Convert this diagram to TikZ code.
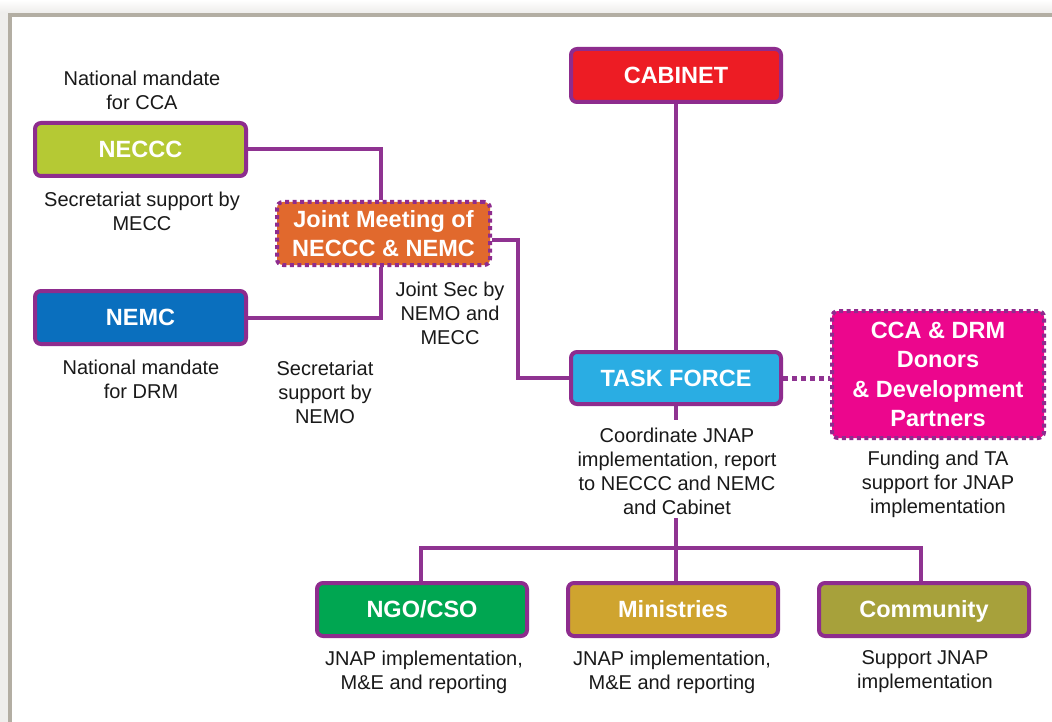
\documentclass[tikz,border=0pt]{standalone}
\usepackage{fontspec}
\setmainfont{Liberation Sans}
\usetikzlibrary{backgrounds}
\definecolor{frameout}{HTML}{EFEEEC}
\definecolor{framebar}{HTML}{B3AEA3}
\definecolor{purp}{HTML}{8E2C8E}
\definecolor{linep}{HTML}{8F3391}
\definecolor{cabred}{HTML}{ED1C24}
\definecolor{neccc}{HTML}{B5C934}
\definecolor{nemc}{HTML}{0A6FBE}
\definecolor{jointor}{HTML}{E1692D}
\definecolor{taskb}{HTML}{2AADE3}
\definecolor{donorp}{HTML}{EC068D}
\definecolor{ngog}{HTML}{00A651}
\definecolor{minis}{HTML}{CFA42F}
\definecolor{commu}{HTML}{A7A13B}
\tikzset{
  boxbase/.style={rounded corners=6pt, inner sep=0pt, align=center, text=white,
    font=\fontsize{23.5}{29.5}\selectfont\bfseries, minimum width=210pt, minimum height=53pt},
  solidbox/.style={boxbase, draw=purp, line width=4pt, text height=18.4pt, text depth=1.6pt},
  dotbox/.style={boxbase, draw=purp, line width=4pt, dash pattern=on 4pt off 3.5pt},
  conn/.style={draw=linep, line width=4pt},
  dotconn/.style={draw=linep, line width=5pt, dash pattern=on 5pt off 4pt},
  lbl/.style={align=center, inner sep=0pt, font=\fontsize{20}{24}\selectfont, text=black!90}
}
\begin{document}
\begin{tikzpicture}[x=1pt,y=-1pt]
\useasboundingbox (0,0) rectangle (1052,722);

% boxes
\node[solidbox, fill=cabred] (cab) at (676,75.5) {CABINET};
\node[solidbox, fill=neccc, minimum width=211pt] (neccc) at (140.5,149.5) {NECCC};
\node[solidbox, fill=nemc, minimum width=211pt] (nemc) at (140.5,317.5) {NEMC};
\node[dotbox, fill=jointor, minimum width=213pt, minimum height=63pt] (joint) at (383.5,233.5) {Joint Meeting of\\NECCC \& NEMC};
\node[solidbox, fill=taskb, minimum height=52pt] (tf) at (676,378) {TASK FORCE};
\node[dotbox, fill=donorp, minimum width=212pt, minimum height=127pt] (donor) at (938,374.5) {CCA \& DRM\\Donors\\\& Development\\Partners};
\node[solidbox, fill=ngog] (ngo) at (422,609.5) {NGO/CSO};
\node[solidbox, fill=minis] (min) at (673,609.5) {Ministries};
\node[solidbox, fill=commu] (com) at (924,609.5) {Community};

\begin{scope}[on background layer]
% frame
\fill[frameout] (0,0) rectangle (1052,722);
\fill[top color=white, bottom color=frameout] (0,0) rectangle (1052,12);
\fill[framebar] (8,13) rectangle (1052,722);
\fill[white] (12,17) rectangle (1052,722);
% connectors
\coordinate (jn) at (381,233.5);
\coordinate (tstub) at (676,420);
\coordinate (tlow) at (676,518);
\coordinate (bus) at (676,548);
\coordinate (busl) at (421,548);
\coordinate (busr) at (921,548);
\path[conn] (neccc.east) -| (joint.north -| jn);
\path[conn] (nemc.east) -| (joint.south -| jn);
\path[conn] ([yshift=-6.5pt]joint.east) -- ++(26,0) |- (tf.west);
\path[conn] (cab.south) -- (tf.north);
\path[conn] (tf.south) -- (tstub);
\path[conn] (tlow) -- (bus);
\path[conn] ([xshift=-2pt]busl) -- ([xshift=2pt]busr);
\path[conn] (busl) -- (busl |- ngo.north);
\path[conn] (bus) -- (bus |- min.north);
\path[conn] (busr) -- (busr |- com.north);
\path[dotconn] (tf.east) -- (donor.west |- tf.east);
\end{scope}

% labels
\node[lbl] (l1) at (142,90) {National mandate\\for CCA};
\node[lbl] (l2) at (142,211) {Secretariat support by\\MECC};
\node[lbl] (l3) at (141,379) {National mandate\\for DRM};
\node[lbl] (l4) at (325,392) {Secretariat\\support by\\NEMO};
\node[lbl] (l5) at (450,313) {Joint Sec by\\NEMO and\\MECC};
\node[lbl] (l6) at (677,471) {Coordinate JNAP\\implementation, report\\to NECCC and NEMC\\and Cabinet};
\node[lbl] (l7) at (938,484) {Funding and TA\\support for JNAP\\implementation};
\node[lbl] (l8) at (424,672) {JNAP implementation,\\M\&E and reporting};
\node[lbl] (l9) at (672,672) {JNAP implementation,\\M\&E and reporting};
\node[lbl] (l10) at (925,672) {Support JNAP\\implementation};
\end{tikzpicture}
\end{document}
